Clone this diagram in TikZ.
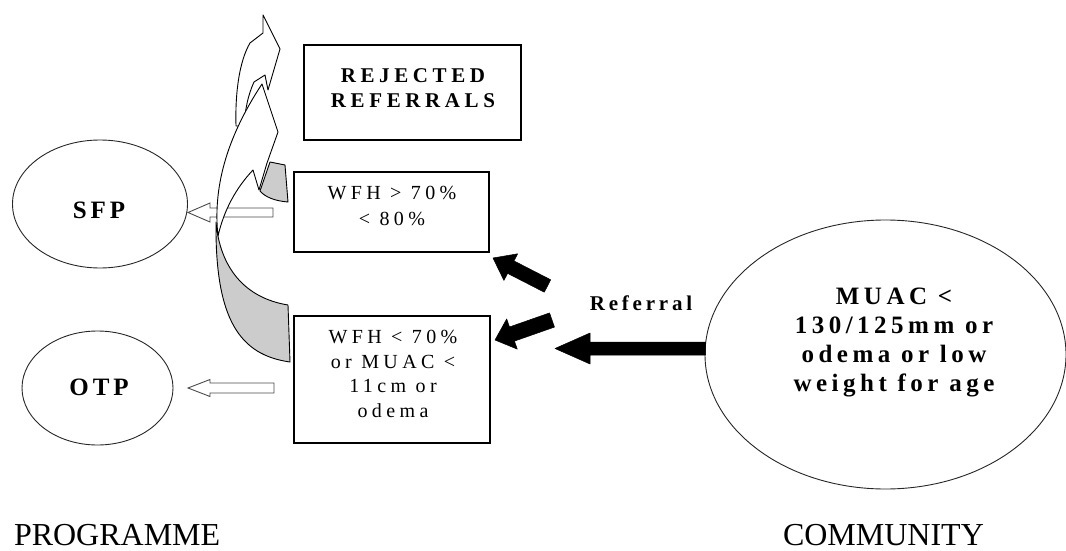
\documentclass[tikz,border=0pt]{standalone}
\usepackage{fontspec}
\setmainfont{Liberation Serif}
\newfontfamily\lsA[LetterSpace=16]{Liberation Serif}
\newfontfamily\lsB[LetterSpace=22]{Liberation Serif}
\newfontfamily\lsC[LetterSpace=18]{Liberation Serif}
\usetikzlibrary{calc,shapes.geometric}
\newcommand{\blockarr}[6]{%
  \coordinate (ba-n) at ($(#3)!#6!(#2)$);
  \draw[#1] ($(#2)!#4!90:(#3)$) -- ($(ba-n)!#4!90:(#3)$) -- ($(ba-n)!#5!90:(#3)$) -- (#3)
    -- ($(ba-n)!#5!-90:(#3)$) -- ($(ba-n)!#4!-90:(#3)$) -- ($(#2)!#4!-90:(#3)$) -- cycle;
}
\begin{document}
\begin{tikzpicture}[x=1pt,y=-1pt,
  every node/.style={inner sep=0pt, outer sep=0pt},
  oval/.style={draw=black!85, line width=0.9pt, ellipse},
  box/.style={draw=black, line width=1.1pt, rectangle},
  hollow/.style={draw=black!70, fill=white, line width=0.9pt, line join=miter},
  solidarr/.style={fill=black, draw=black, line width=0.5pt, line join=round},
  band/.style={draw=black, line width=0.9pt, fill=white, line join=round},
  shade/.style={draw=black, line width=0.9pt, fill=black!20, line join=round},
  bigtext/.style={font=\lsA\bfseries\fontsize{25}{29}\selectfont, align=center},
  boxtext/.style={font=\lsB\fontsize{20}{25}\selectfont, align=center},
  headtext/.style={font=\lsB\bfseries\fontsize{21}{25}\selectfont, align=center},
  sidetext/.style={font=\fontsize{32}{38}\selectfont, anchor=base west}
]
\useasboundingbox (0,0) rectangle (1066,551);

% ellipses
\node[oval, minimum width=175pt, minimum height=128pt] (sfp) at (100,204) {};
\node[oval, minimum width=151pt, minimum height=114pt] (otp) at (97.5,388) {};
\node[oval, minimum width=361pt, minimum height=269pt] (muac) at (885.5,354.5) {};
\node[bigtext] (sfptext) at (99,210) {SFP};
\node[bigtext] (otptext) at (99,387) {OTP};
\node[font=\lsC\bfseries\fontsize{25}{29}\selectfont, align=center] (muactext) at (894,342.5)
  {MUAC <\\130/125mm or\\odema or low\\weight for age};

% boxes
\node[box, minimum width=217pt, minimum height=95pt] (rej) at (412.5,92.5) {};
\node[box, minimum width=195pt, minimum height=80pt] (mod) at (391.5,212) {};
\node[box, minimum width=196pt, minimum height=127pt] (sev) at (392,379.5) {};
\node[headtext] (rejtext) at (413,88) {REJECTED\\REFERRALS};
\node[boxtext, font=\lsB\fontsize{20}{26}\selectfont] (modtext) at (392,206) {WFH > 70\%\\< 80\%};
\node[boxtext, font=\lsB\fontsize{20}{24.5}\selectfont] (sevtext) at (393,374) {WFH < 70\%\\or MUAC <\\11cm or\\odema};

% labels
\node[font=\lsC\bfseries\fontsize{21}{24}\selectfont] (referral) at (641,303) {Referral};
\node[sidetext] (programme) at (14,545) {PROGRAMME};
\node[sidetext] (community) at (783,545) {COMMUNITY};

% hollow arrows to SFP and OTP
\coordinate (sfpTail) at (273,212.5);
\coordinate (sfpTip) at ($(sfp.east)+(0.5,8.5)$);
\blockarr{hollow}{sfpTail}{sfpTip}{4.5pt}{9.5pt}{22pt}
\coordinate (otpTail) at (274,388);
\coordinate (otpTip) at (188,388);
\blockarr{hollow}{otpTail}{otpTip}{5pt}{8.5pt}{22pt}

% small curved arrow (top)
\draw[band] (236,126) .. controls (235,90) and (240,60) .. (250,43) -- (263,33) -- (263,15) -- (280,49)
  -- (268,90) -- (265,75) -- (254,82) .. controls (248,95) and (245,110) .. (244,126) -- cycle;
% large curved arrow: shaded back face
\draw[shade] (288,305) -- (290,362) .. controls (240,355) and (215,320) .. (216,222)
  .. controls (220,268) and (245,298) .. (288,305) -- cycle;
% large curved arrow: front face with head
\draw[band] (218,236) .. controls (213,190) and (225,140) .. (262,84) -- (278,132) -- (267,163)
  -- (259,190) -- (253,170) .. controls (236,188) and (224,210) .. (218,236) -- cycle;
% shaded tail of the small arrow
\draw[shade] (270,162) -- (285,165) -- (288,202) .. controls (275,201) and (265,197) .. (260,191) -- cycle;

% black referral arrows
\coordinate (r1t) at (547.5,286);
\coordinate (r1h) at (493,258);
\blockarr{solidarr}{r1t}{r1h}{7pt}{15pt}{20pt}
\coordinate (r2t) at (552,320);
\coordinate (r2h) at (495,340);
\blockarr{solidarr}{r2t}{r2h}{7.5pt}{16pt}{18pt}
\coordinate (r3t) at ($(muac.west)+(0.5,-6)$);
\coordinate (r3h) at (555,348.5);
\blockarr{solidarr}{r3t}{r3h}{6.5pt}{15.5pt}{35pt}
\end{tikzpicture}
\end{document}
